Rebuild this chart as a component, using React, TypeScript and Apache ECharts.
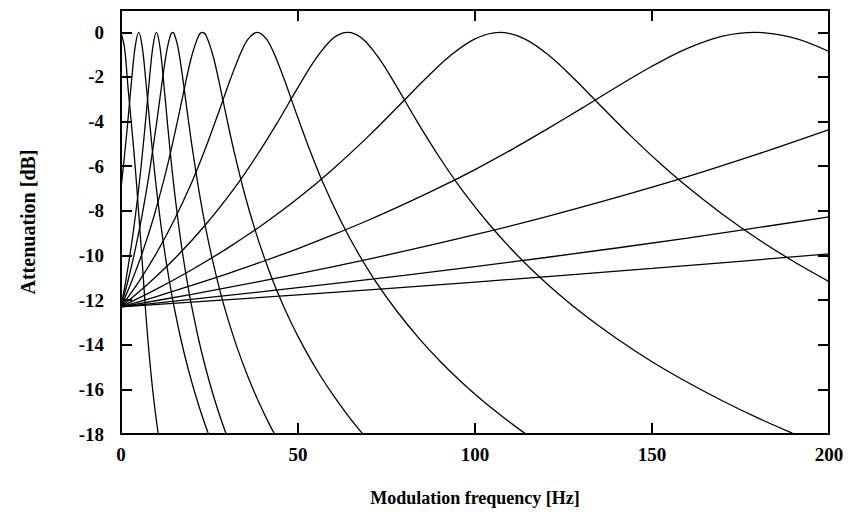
import React, { useEffect, useRef } from "react";
import * as echarts from "echarts";

// Modulation filterbank transfer functions: [frequency (Hz), attenuation (dB)]
const lowpass = [[0, 0], [1, -0.7], [2, -2.5], [3, -4.2], [4, -6.0], [5, -8.1], [6, -10.3], [7, -12.6], [8, -14.5], [9, -16.1], [10, -17.4], [11, -18.5]];

const band5 = [[0, -6.99], [1, -5.51], [2, -3.87], [3, -2.15], [4, -0.65], [5, 0], [6, -0.65], [7, -2.15], [8, -3.87], [9, -5.51], [10, -6.99], [11, -8.3], [12, -9.47], [13, -10.51], [14, -11.45], [15, -12.3], [17, -13.81], [19, -15.1], [21, -16.23], [23, -17.23], [25, -18.13]];

const band10 = [[0, -12.3], [1, -11.45], [2, -10.51], [3, -9.47], [4, -8.3], [5, -6.99], [6, -5.51], [7, -3.87], [8, -2.15], [9, -0.65], [10, 0], [11, -0.65], [12, -2.15], [13, -3.87], [14, -5.51], [15, -6.99], [16, -8.3], [17, -9.47], [18, -10.51], [19, -11.45], [20, -12.3], [22, -13.81], [24, -15.1], [26, -16.23], [28, -17.23], [30, -18.13]];

const band15 = [[0, -12.3], [2, -11.11], [4, -9.75], [6, -8.16], [8, -6.3], [10, -4.13], [11, -2.95], [12, -1.78], [13, -0.76], [14, -0.12], [14.6, 0], [15, -0.05], [16, -0.6], [17, -1.56], [18, -2.71], [19, -3.9], [20, -5.04], [22, -7.08], [24, -8.83], [26, -10.31], [28, -11.61], [30, -12.74], [33, -14.22], [36, -15.49], [39, -16.6], [42, -17.59], [45, -18.47]];

const band23 = [[0, -12.3], [3, -11.17], [6, -9.89], [9, -8.41], [12, -6.68], [14, -5.38], [16, -3.95], [18, -2.44], [20, -1.05], [22, -0.13], [23, 0], [24, -0.13], [26, -1.05], [28, -2.44], [30, -3.95], [32, -5.38], [35, -7.29], [38, -8.92], [41, -10.33], [44, -11.57], [48, -12.99], [52, -14.22], [56, -15.31], [60, -16.27], [64, -17.15], [68, -17.94], [70, -18.31]];

const band39 = [[0, -12.3], [5, -11.18], [10, -9.9], [15, -8.42], [20, -6.72], [24, -5.14], [28, -3.4], [31, -2.06], [34, -0.86], [36, -0.28], [38.5, 0], [41, -0.28], [43, -0.86], [46, -2.06], [49, -3.4], [53, -5.14], [57, -6.72], [62, -8.42], [67, -9.9], [72, -11.18], [78, -12.51], [84, -13.68], [90, -14.72], [96, -15.65], [102, -16.49], [108, -17.25], [114, -17.96], [118, -18.4]];

const band64 = [[0, -12.3], [8, -11.22], [16, -10.0], [24, -8.6], [32, -6.99], [38, -5.61], [44, -4.09], [50, -2.47], [55, -1.19], [60, -0.26], [64, 0], [68, -0.26], [73, -1.19], [78, -2.47], [84, -4.09], [90, -5.61], [96, -6.99], [104, -8.6], [112, -10.0], [120, -11.22], [130, -12.56], [140, -13.72], [150, -14.76], [160, -15.68], [170, -16.52], [180, -17.29], [190, -17.99], [196, -18.39]];

const band107 = [[0, -12.3], [10, -11.51], [20, -10.64], [30, -9.68], [40, -8.62], [50, -7.44], [60, -6.11], [70, -4.64], [78, -3.37], [86, -2.08], [93, -1.05], [100, -0.29], [107, 0], [114, -0.29], [121, -1.05], [128, -2.08], [136, -3.37], [144, -4.64], [152, -5.83], [160, -6.92], [170, -8.16], [180, -9.27], [190, -10.27], [200, -11.17]];

const band179 = [[0, -12.3], [10, -11.84], [20, -11.34], [30, -10.82], [40, -10.27], [50, -9.69], [60, -9.07], [70, -8.41], [80, -7.7], [90, -6.95], [100, -6.15], [110, -5.29], [120, -4.37], [130, -3.42], [140, -2.45], [150, -1.52], [160, -0.72], [170, -0.17], [179, 0], [190, -0.25], [200, -0.86]];

const band298 = [[0, -12.3], [20, -11.74], [40, -11.14], [60, -10.5], [80, -9.81], [100, -9.07], [120, -8.27], [140, -7.4], [160, -6.47], [180, -5.45], [200, -4.36]];

const band497 = [[0, -12.3], [40, -11.62], [80, -10.89], [120, -10.09], [160, -9.22], [200, -8.27]];

const band780 = [[0, -12.3], [50, -11.77], [100, -11.19], [150, -10.58], [200, -9.93]];

const curves = [lowpass, band5, band10, band15, band23, band39, band64, band107, band179, band298, band497, band780];

const xTicks = { min: 0, max: 200, step: 50 };
const yTicks = { min: -18, max: 1, step: 2 };

const labelFont = {
  fontFamily: "Liberation Serif",
  fontWeight: "bold" as const,
  fontSize: 19,
  color: "#000",
};

export default function App() {
  const ref = useRef<HTMLDivElement>(null);

  useEffect(() => {
    document.body.style.margin = "0";
    const chart = echarts.init(ref.current!, null, { renderer: "svg" });
    const frame = { show: true, onZero: false, lineStyle: { color: "#000", width: 2 } };
    const inTicks = { show: true, inside: true, length: 11, lineStyle: { color: "#000", width: 2 } };

    chart.setOption({
      animation: false,
      backgroundColor: "#fff",
      grid: { left: 121, right: 19, top: 10, bottom: 84, containLabel: false },
      xAxis: [
        {
          type: "value",
          position: "bottom",
          min: xTicks.min,
          max: xTicks.max,
          interval: xTicks.step,
          axisLine: frame,
          axisTick: inTicks,
          splitLine: { show: false },
          axisLabel: { ...labelFont, margin: 11 },
          name: "Modulation frequency [Hz]",
          nameLocation: "middle",
          nameGap: 55,
          nameTextStyle: { ...labelFont, fontSize: 18 },
        },
        {
          type: "value",
          position: "top",
          min: xTicks.min,
          max: xTicks.max,
          interval: xTicks.step,
          axisLine: frame,
          axisTick: inTicks,
          splitLine: { show: false },
          axisLabel: { show: false },
        },
      ],
      yAxis: [
        {
          type: "value",
          position: "left",
          min: yTicks.min,
          max: yTicks.max,
          interval: yTicks.step,
          axisLine: frame,
          axisTick: inTicks,
          splitLine: { show: false },
          axisLabel: {
            ...labelFont,
            margin: 17,
            formatter: (v: number) => (v > 0 ? "" : String(v)),
          },
          name: "Attenuation [dB]",
          nameLocation: "middle",
          nameGap: 83,
          nameTextStyle: { ...labelFont, fontSize: 20 },
        },
        {
          type: "value",
          position: "right",
          min: yTicks.min,
          max: yTicks.max,
          interval: yTicks.step,
          axisLine: frame,
          axisTick: inTicks,
          splitLine: { show: false },
          axisLabel: { show: false },
        },
      ],
      series: curves.map((data) => ({
        type: "line",
        data,
        xAxisIndex: 0,
        yAxisIndex: 0,
        smooth: 0.35,
        showSymbol: false,
        clip: true,
        lineStyle: { color: "#000", width: 1.3 },
      })),
    });

    return () => chart.dispose();
  }, []);

  return <div ref={ref} style={{ width: 848, height: 518 }} />;
}
